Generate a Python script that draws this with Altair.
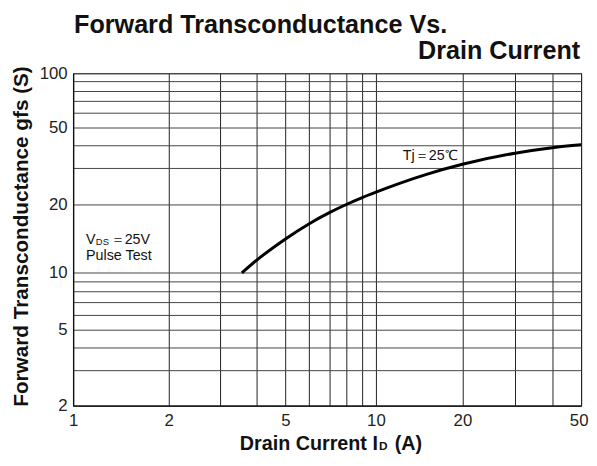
import altair as alt
import pandas as pd

# ---- data ----
drain_current = [3.55, 4, 5, 6, 7, 8, 9, 10, 15, 20, 30, 40, 50]
transconductance = [10, 11.4, 14.1, 16.46, 18.4, 20.04, 21.57, 22.9, 27.86, 31.3, 36.0, 38.6, 40.05]

x_grid = [1, 2, 3, 4, 5, 6, 7, 8, 9, 10, 20, 30, 40, 50]
x_labels = [1, 2, 5, 10, 20, 50]
y_grid = [2, 3, 4, 5, 6, 7, 8, 9, 10, 20, 30, 40, 50, 60, 70, 80, 90, 100]
y_labels = [2, 5, 10, 20, 50, 100]

title_line1 = "Forward Transconductance Vs."
title_line2 = "Drain Current"
y_title = "Forward Transconductance gfs (S)"
tj_label = "Tj＝25℃"
pulse_label = "Pulse Test"

FONT = "Liberation Sans"
W, H = 515, 337

# log-spaced grid of the printed sheet (slightly uneven decades)
x_scale = alt.Scale(type="log", domain=[1, 2, 5, 10, 20, 50],
                    range=[0, 97, 215.3, 307, 394.7, 515], nice=False)
y_scale = alt.Scale(type="log", domain=[2, 3, 4, 5, 10, 20, 30, 50, 100],
                    range=[337, 301, 278, 259.7, 202.3, 133, 95.7, 54.7, 0], nice=False)

curve_df = pd.DataFrame({"id": drain_current, "gfs": transconductance})

lx = "[" + ",".join(str(v) for v in x_labels) + "]"
ly = "[" + ",".join(str(v) for v in y_labels) + "]"

x_axis = alt.Axis(values=x_grid, title=None, grid=True, gridColor="#222", gridWidth=1,
                  ticks=False, domainColor="#111", domainWidth=1.3,
                  labelExpr=f"indexof({lx}, datum.value) >= 0 ? format(datum.value, 'd') : ''",
                  labelAlign={"expr": "datum.value == 50 ? 'right' : 'center'"},
                  labelOffset={"expr": "datum.value == 50 ? 7 : 0"},
                  labelFont=FONT, labelFontSize=17, labelColor="#222", labelPadding=7,
                  labelFlush=False, labelOverlap=False, labelBound=False)
y_axis = alt.Axis(values=y_grid, title=y_title, grid=True, gridColor="#444", gridWidth=1,
                  ticks=False, domainColor="#111", domainWidth=1.3,
                  labelExpr=f"indexof({ly}, datum.value) >= 0 ? format(datum.value, 'd') : ''",
                  labelFont=FONT, labelFontSize=17, labelColor="#222", labelPadding=6,
                  labelOverlap=False, labelBound=False,
                  titleFont=FONT, titleFontSize=21, titleFontWeight="bold", titleColor="#111",
                  titleAngle=270, titleX=-46, titleY=165, titleAlign="center",
                  titleBaseline="alphabetic")

curve = alt.Chart(curve_df).mark_line(color="black", strokeWidth=3, interpolate="monotone",
                                      strokeCap="butt").encode(
    x=alt.X("id:Q", scale=x_scale, axis=x_axis),
    y=alt.Y("gfs:Q", scale=y_scale, axis=y_axis),
)

def txt(df, size, weight="normal", align="left", baseline="middle", dx=0, dy=0):
    return alt.Chart(df).mark_text(font=FONT, fontSize=size, fontWeight=weight, align=align,
                                   baseline=baseline, dx=dx, dy=dy, color="#111")

# annotations in data coordinates
tj = txt(pd.DataFrame({"x": [12.4], "y": [34.9], "t": [tj_label]}), 14.5).encode(
    x=alt.X("x:Q", scale=x_scale), y=alt.Y("y:Q", scale=y_scale), text="t:N")
vds_v = txt(pd.DataFrame({"x": [1.098], "y": [13.95], "t": ["V"]}), 14.5).encode(
    x=alt.X("x:Q", scale=x_scale), y=alt.Y("y:Q", scale=y_scale), text="t:N")
vds_sub = txt(pd.DataFrame({"x": [1.098], "y": [13.95], "t": ["DS"]}), 9.5, dx=10, dy=2).encode(
    x=alt.X("x:Q", scale=x_scale), y=alt.Y("y:Q", scale=y_scale), text="t:N")
vds_val = txt(pd.DataFrame({"x": [1.098], "y": [13.95], "t": ["＝25V"]}), 14.5, dx=25).encode(
    x=alt.X("x:Q", scale=x_scale), y=alt.Y("y:Q", scale=y_scale), text="t:N")
pulse = txt(pd.DataFrame({"x": [1.098], "y": [11.9], "t": [pulse_label]}), 14.5).encode(
    x=alt.X("x:Q", scale=x_scale), y=alt.Y("y:Q", scale=y_scale), text="t:N")

# titles (outside the plot area)
t1 = txt(pd.DataFrame({"t": [title_line1]}), 25.5, "bold", baseline="alphabetic").encode(
    x=alt.value(1), y=alt.value(-41), text="t:N")
t2 = txt(pd.DataFrame({"t": [title_line2]}), 25.5, "bold", align="right", baseline="alphabetic").encode(
    x=alt.value(514), y=alt.value(-14), text="t:N")
xt1 = txt(pd.DataFrame({"t": ["Drain Current I"]}), 20, "bold", baseline="alphabetic").encode(
    x=alt.value(169), y=alt.value(382), text="t:N")
xt2 = txt(pd.DataFrame({"t": ["D"]}), 12, "bold", baseline="alphabetic").encode(
    x=alt.value(310), y=alt.value(382), text="t:N")
xt3 = txt(pd.DataFrame({"t": ["(A)"]}), 20, "bold", baseline="alphabetic").encode(
    x=alt.value(326), y=alt.value(382), text="t:N")

chart = alt.layer(curve, tj, vds_v, vds_sub, vds_val, pulse, t1, t2, xt1, xt2, xt3).properties(
    width=W, height=H,
    padding={"left": 66, "top": 63, "right": 8, "bottom": 58},
    autosize=alt.AutoSizeParams(type="none"),
    background="white",
).configure_view(stroke="#222", strokeWidth=1)

chart.save("out.html", embed_options={"renderer": "svg", "actions": False})
